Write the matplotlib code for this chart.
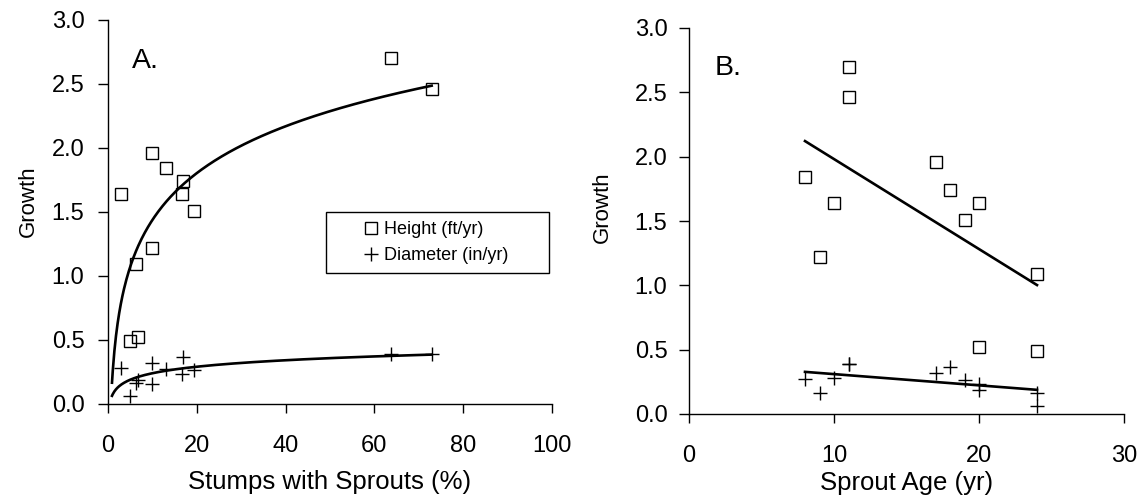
import numpy as np
import matplotlib
matplotlib.use("Agg")
import matplotlib.pyplot as plt

plt.rcParams['font.family'] = ['Liberation Sans', 'DejaVu Sans']

# ---- data ----
stumps_pct = [2.9, 4.9, 6.2, 6.8, 9.8, 9.8, 13.0, 16.7, 17.0, 19.3, 63.8, 72.9]
sprout_age = [10, 24, 24, 20, 17, 9, 8, 20, 18, 19, 11, 11]
height_growth = [1.64, 0.49, 1.09, 0.52, 1.96, 1.22, 1.84, 1.64, 1.74, 1.51, 2.70, 2.46]
diam_growth = [0.28, 0.065, 0.165, 0.19, 0.32, 0.16, 0.275, 0.235, 0.365, 0.265, 0.39, 0.39]

yticks = [0.0, 0.5, 1.0, 1.5, 2.0, 2.5, 3.0]
xticks_a = [0, 20, 40, 60, 80, 100]
xticks_b = [0, 10, 20, 30]
labels = ['Height (ft/yr)', 'Diameter (in/yr)']

W, H = 1143, 499
fig = plt.figure(figsize=(W / 100, H / 100), dpi=100)

def px_axes(l, r, t, b):
    return fig.add_axes([l / W, 1 - b / H, (r - l) / W, (b - t) / H])

axA = px_axes(108, 552, 20, 404)
axB = px_axes(689, 1124, 28, 414)

sq = dict(ls='none', marker='s', ms=9.2, mfc='none', mec='black', mew=1.0)
pl = dict(ls='none', marker='+', ms=10.5, mec='black', mew=1.0)
trend = dict(color='black', lw=1.9)

x_a = np.array(stumps_pct)
x_b = np.array(sprout_age)
hg = np.array(height_growth)
dg = np.array(diam_growth)

# ---- panel A : logarithmic trendlines ----
h1, = axA.plot(x_a, hg, **sq)
h2, = axA.plot(x_a, dg, **pl)
xs = np.linspace(x_a.min() - 2.0, x_a.max(), 400)
for y in (hg, dg):
    a, b = np.polyfit(np.log(x_a), y, 1)
    axA.plot(xs, a * np.log(xs) + b, **trend)

# ---- panel B : linear trendlines ----
axB.plot(x_b, hg, **sq)
axB.plot(x_b, dg, **pl)
xl = np.array([x_b.min(), x_b.max()])
for y in (hg, dg):
    a, b = np.polyfit(x_b, y, 1)
    axB.plot(xl, a * xl + b, **trend)

for ax, xt, xlim, lab, ypad, glx, gly, xly in (
        (axA, xticks_a, (0, 100), 'Stumps with Sprouts (%)', 10, -0.180, 0.527, -0.203),
        (axB, xticks_b, (0, 30), 'Sprout Age (yr)', 8.5, -0.198, 0.535, -0.179)):
    ax.set_xlim(*xlim)
    ax.set_ylim(0, 3.0)
    ax.set_xticks(xt)
    ax.set_yticks(yticks)
    ax.set_yticklabels([f'{v:.1f}' for v in yticks])
    ax.spines['top'].set_visible(False)
    ax.spines['right'].set_visible(False)
    for s in ('left', 'bottom'):
        ax.spines[s].set_linewidth(1.0)
    ax.tick_params(axis='y', direction='out', length=7, width=1.0, pad=ypad, labelsize=17)
    ax.tick_params(axis='x', direction='out', length=6.5, width=1.0, pad=16, labelsize=17)
    ax.set_xlabel(lab, fontsize=18.5)
    ax.xaxis.label.set_va('center')
    ax.xaxis.set_label_coords(0.5, xly)
    ax.set_ylabel('Growth', fontsize=16)
    ax.yaxis.label.set_va('center')
    ax.yaxis.set_label_coords(glx, gly)
    ax.patch.set_alpha(0)

axA.text(0.054, 0.875, 'A.', transform=axA.transAxes, fontsize=20.5, ha='left', va='baseline')
axB.text(0.060, 0.878, 'B.', transform=axB.transAxes, fontsize=20.5, ha='left', va='baseline')

bx0 = (326 - 108) / 444
bx1 = (549 - 108) / 444
by1 = (404 - 212) / 384
by0 = (404 - 278) / 384
leg = axA.legend([h1, h2], labels, loc='upper left',
                 bbox_to_anchor=(bx0, by0, bx1 - bx0, by1 - by0), mode='expand',
                 borderaxespad=0, fontsize=13, frameon=True, fancybox=False,
                 edgecolor='black', borderpad=0.5, labelspacing=0.5,
                 handlelength=4.0, handletextpad=-1.3, numpoints=1)
leg.get_frame().set_linewidth(1.0)
leg.get_frame().set_alpha(1)

fig.savefig('out.png', dpi=100)
